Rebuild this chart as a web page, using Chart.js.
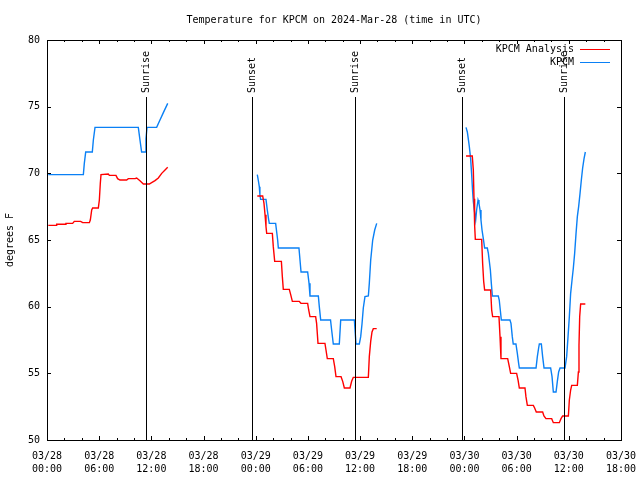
<!DOCTYPE html>
<html lang="en">
<head>
<meta charset="UTF-8">
<title>Temperature for KPCM</title>
<script src="https://cdn.jsdelivr.net/npm/chart.js"></script>
<style>
    html, body { margin: 0; padding: 0; background: #fff; }
    #wrap { width: 640px; height: 480px; }
</style>
</head>
<body>
<div id="wrap"><canvas id="tempChart" width="640" height="480"></canvas></div>
<script>
// hours since 03/28 00:00 UTC, null temp = break in the line
const analysisHours = [
    0.15, 1.04, 1.11, 2.07, 2.18, 2.95, 3.14, 3.87, 4.1, 4.87, 4.98, 5.14, 5.25, 5.9, 6.02, 6.13, 6.21,
    7.05, 7.17, 7.93, 8.12, 8.39, 9.16, 9.35, 10.12, 10.31, 10.69, 11.08, 11.77, 12.03, 12.42, 12.8, 13.19, 13.57, 13.88,
    19,
    24.18, 24.8, 24.95, 25.07, 25.18, 25.26, 25.91, 26.02, 26.18, 26.95, 27.06, 27.17, 27.86, 28.02, 28.21, 29.0,
    29.2, 29.97, 30.09, 30.24, 30.89, 31.0, 31.16, 31.96, 32.08, 32.23, 32.92, 33.08, 33.23, 33.81, 34.0, 34.19,
    34.84, 35.03, 35.22, 36.95, 37.06, 37.22, 37.37, 37.52, 37.91,
    43,
    48.18, 48.9, 49.02, 49.1, 49.17, 49.25, 49.98, 50.09, 50.21, 50.32, 51.01, 51.13, 51.24, 51.97, 52.09, 52.2,
    52.97, 53.16, 53.31, 54.0, 54.16, 54.31, 54.96, 55.07, 55.23, 55.92, 56.07, 56.26, 56.99, 57.14, 57.37, 58.03,
    58.22, 58.91, 59.1, 59.29, 59.95, 60.06, 60.21, 60.33, 60.98, 61.1, 61.17, 61.25, 61.36, 61.9
];
const analysisTemps = [
    66.1, 66.1, 66.18, 66.18, 66.25, 66.25, 66.4, 66.4, 66.3, 66.3, 66.5, 67.25, 67.4, 67.4, 68.0, 69.25, 69.9,
    69.95, 69.85, 69.85, 69.6, 69.5, 69.5, 69.6, 69.6, 69.65, 69.45, 69.2, 69.2, 69.3, 69.45, 69.65, 70.0, 70.25, 70.45,
    null,
    68.3, 68.3, 67.75, 66.9, 66.0, 65.5, 65.5, 64.5, 63.4, 63.4, 62.25, 61.3, 61.3, 60.9, 60.4, 60.4,
    60.25, 60.25, 59.75, 59.25, 59.25, 58.75, 57.25, 57.25, 56.75, 56.1, 56.1, 55.5, 54.75, 54.75, 54.4, 53.9,
    53.9, 54.4, 54.7, 54.7, 56.25, 57.4, 58.1, 58.35, 58.35,
    null,
    71.3, 71.3, 70.25, 68.1, 66.1, 65.05, 65.05, 63.25, 61.9, 61.25, 61.25, 59.75, 59.25, 59.25, 57.75, 56.1,
    56.1, 55.5, 55.0, 55.0, 54.5, 53.9, 53.9, 53.25, 52.6, 52.6, 52.4, 52.1, 52.1, 51.8, 51.6, 51.6,
    51.3, 51.3, 51.6, 51.8, 51.8, 53.0, 53.75, 54.1, 54.1, 55.1, 57.1, 59.25, 60.2, 60.2
];
const obsHours = [
    0.15, 4.18, 4.29, 4.45, 5.21, 5.33, 5.52, 10.5, 10.69, 10.88, 11.27, 11.38, 11.5, 12.61, 12.99, 13.38, 13.88,
    19,
    24.18, 24.29, 24.41, 24.48, 24.56, 25.18, 25.33, 25.48, 25.56, 26.29, 26.41, 26.52, 26.6, 28.97, 29.09, 29.21,
    29.97, 30.13, 30.24, 31.2, 31.31, 31.47, 32.6, 32.73, 32.92, 33.61, 33.77, 35.34, 35.53, 35.91, 36.07, 36.22,
    36.37, 36.56, 36.95, 37.06, 37.22, 37.45, 37.68, 37.91,
    43,
    48.18, 48.33, 48.45, 48.56, 48.71, 48.83, 48.94, 49.02, 49.13, 49.29, 49.4, 49.56, 49.67, 49.79, 49.9, 50.02,
    50.17, 50.32, 50.63, 50.75, 50.86, 50.98, 51.09, 51.21, 51.89, 52.0, 52.12, 52.24, 53.23, 53.35, 53.5, 53.61,
    53.92, 54.08, 54.23, 54.31, 56.23, 56.38, 56.53, 56.61, 56.84, 56.99, 57.15, 57.91, 58.07, 58.22, 58.53, 58.68,
    58.83, 58.99, 59.56, 59.75, 59.91, 60.06, 60.21, 60.37, 60.52, 60.67, 60.83, 60.98, 61.13, 61.29, 61.44, 61.59,
    61.75, 61.9
];
const obsTemps = [
    69.9, 69.9, 70.75, 71.6, 71.6, 72.5, 73.45, 73.45, 72.5, 71.6, 71.6, 72.6, 73.45, 73.45, 74.0, 74.55, 75.25,
    null,
    69.9, 69.5, 69.0, 68.4, 68.05, 68.05, 67.25, 66.55, 66.25, 66.25, 65.6, 65.0, 64.4, 64.4, 63.5, 62.6,
    62.6, 61.75, 60.8, 60.8, 60.0, 59.0, 59.0, 58.25, 57.2, 57.2, 59.0, 59.0, 57.2, 57.2, 57.75, 58.7,
    59.9, 60.75, 60.8, 61.75, 63.5, 65.0, 65.75, 66.25,
    null,
    73.45, 73.1, 72.55, 72.0, 71.1, 69.9, 68.6, 67.9, 67.25, 66.5, 67.25, 68.0, 67.75, 67.25, 66.5, 65.75,
    65.1, 64.4, 64.4, 64.0, 63.4, 62.75, 61.75, 60.8, 60.8, 60.5, 59.75, 59.0, 59.0, 58.75, 57.75, 57.2,
    57.2, 56.5, 55.75, 55.4, 55.4, 56.25, 56.9, 57.2, 57.2, 56.25, 55.4, 55.4, 54.75, 53.6, 53.6, 54.4,
    55.1, 55.4, 55.4, 56.25, 57.75, 59.25, 61.0, 62.0, 62.9, 64.0, 65.5, 66.75, 67.5, 68.5, 69.5, 70.4,
    71.1, 71.6
];

const xTickHours = [0, 6, 12, 18, 24, 30, 36, 42, 48, 54, 60, 66];
const xTickLabels = [
    ['03/28', '00:00'], ['03/28', '06:00'], ['03/28', '12:00'], ['03/28', '18:00'],
    ['03/29', '00:00'], ['03/29', '06:00'], ['03/29', '12:00'], ['03/29', '18:00'],
    ['03/30', '00:00'], ['03/30', '06:00'], ['03/30', '12:00'], ['03/30', '18:00']
];
const yTickValues = [50, 55, 60, 65, 70, 75, 80];

const eventHours = [11.42, 23.6, 35.45, 47.68, 59.48];
const eventNames = ['Sunrise', 'Sunset', 'Sunrise', 'Sunset', 'Sunrise'];

const FONT = "'DejaVu Sans Mono', monospace";
const RED = '#ff0000';
const BLUE = '#0a80f5';

function toPoints(hours, temps) {
    return hours.map((h, i) => ({ x: h, y: temps[i] }));
}

// frame, inward ticks, sunrise/sunset markers and the gnuplot-style key
const decorations = {
    id: 'decorations',
    afterDatasetsDraw(chart) {
        const { ctx, chartArea: a, scales: { x, y } } = chart;
        ctx.save();
        ctx.strokeStyle = '#000';
        ctx.lineWidth = 1;

        ctx.beginPath();
        // minor ticks every 2h, major every 6h
        for (let h = 0; h <= 66; h += 2) {
            const px = Math.round(x.getPixelForValue(h)) + 0.5;
            const len = h % 6 === 0 ? 4 : 2;
            ctx.moveTo(px, a.bottom); ctx.lineTo(px, a.bottom - len);
            ctx.moveTo(px, a.top); ctx.lineTo(px, a.top + len);
        }
        yTickValues.forEach(v => {
            const py = Math.round(y.getPixelForValue(v)) + 0.5;
            ctx.moveTo(a.left, py); ctx.lineTo(a.left + 4, py);
            ctx.moveTo(a.right, py); ctx.lineTo(a.right - 4, py);
        });
        ctx.stroke();

        ctx.strokeRect(Math.round(a.left) + 0.5, Math.round(a.top) + 0.5,
            Math.round(a.right - a.left), Math.round(a.bottom - a.top));

        ctx.font = '10px ' + FONT;
        ctx.fillStyle = '#000';
        eventHours.forEach((h, i) => {
            const px = Math.round(x.getPixelForValue(h)) + 0.5;
            ctx.beginPath();
            ctx.moveTo(px, a.top + 57);
            ctx.lineTo(px, a.bottom);
            ctx.stroke();
            ctx.save();
            ctx.translate(px, a.top + 53);
            ctx.rotate(-Math.PI / 2);
            ctx.textAlign = 'left';
            ctx.textBaseline = 'middle';
            ctx.fillText(eventNames[i], 0, 0);
            ctx.restore();
        });

        // key
        const keyX = 574;
        chart.data.datasets.forEach((ds, i) => {
            const ky = a.top + 9 + i * 13;
            ctx.textAlign = 'right';
            ctx.textBaseline = 'middle';
            ctx.fillStyle = '#000';
            ctx.fillText(ds.label, keyX, ky);
            ctx.strokeStyle = ds.borderColor;
            ctx.beginPath();
            ctx.moveTo(keyX + 6, Math.round(ky) + 0.5);
            ctx.lineTo(keyX + 36, Math.round(ky) + 0.5);
            ctx.stroke();
        });
        ctx.restore();
    }
};

const ctx = document.getElementById('tempChart').getContext('2d');
new Chart(ctx, {
    type: 'line',
    data: {
        datasets: [
            {
                label: 'KPCM Analysis',
                data: toPoints(analysisHours, analysisTemps),
                borderColor: RED,
                borderWidth: 1.4,
                pointRadius: 0,
                tension: 0,
                spanGaps: false
            },
            {
                label: 'KPCM',
                data: toPoints(obsHours, obsTemps),
                borderColor: BLUE,
                borderWidth: 1.4,
                pointRadius: 0,
                tension: 0,
                spanGaps: false
            }
        ]
    },
    options: {
        responsive: false,
        animation: false,
        events: [],
        layout: { padding: { left: 0, right: 19, top: 0, bottom: 0 } },
        plugins: {
            legend: { display: false },
            tooltip: { enabled: false },
            title: {
                display: true,
                fullSize: false,
                text: 'Temperature for KPCM on 2024-Mar-28 (time in UTC)',
                color: '#000',
                font: { family: FONT, size: 10, weight: 'normal', lineHeight: 1.2 },
                padding: { top: 14, bottom: 14 }
            }
        },
        scales: {
            x: {
                type: 'linear',
                min: 0,
                max: 66,
                afterBuildTicks: s => { s.ticks = xTickHours.map(v => ({ value: v })); },
                afterFit: s => { s.height = 40; s.paddingLeft = 0; s.paddingRight = 0; },
                grid: { display: false, drawTicks: false },
                border: { display: false },
                ticks: {
                    autoSkip: false,
                    maxRotation: 0,
                    padding: 10,
                    color: '#000',
                    font: { family: FONT, size: 10, lineHeight: 1.3 },
                    callback: (v, i) => xTickLabels[i]
                }
            },
            y: {
                min: 50,
                max: 80,
                afterBuildTicks: s => { s.ticks = yTickValues.map(v => ({ value: v })); },
                afterFit: s => { s.width = 47; s.paddingTop = 0; s.paddingBottom = 0; },
                grid: { display: false, drawTicks: false },
                border: { display: false },
                ticks: {
                    padding: 7,
                    color: '#000',
                    font: { family: FONT, size: 10 },
                    callback: v => String(v)
                },
                title: {
                    display: true,
                    text: 'degrees F',
                    color: '#000',
                    font: { family: FONT, size: 10 },
                    padding: { top: 4, bottom: 0 }
                }
            }
        }
    },
    plugins: [decorations]
});
</script>
</body>
</html>
